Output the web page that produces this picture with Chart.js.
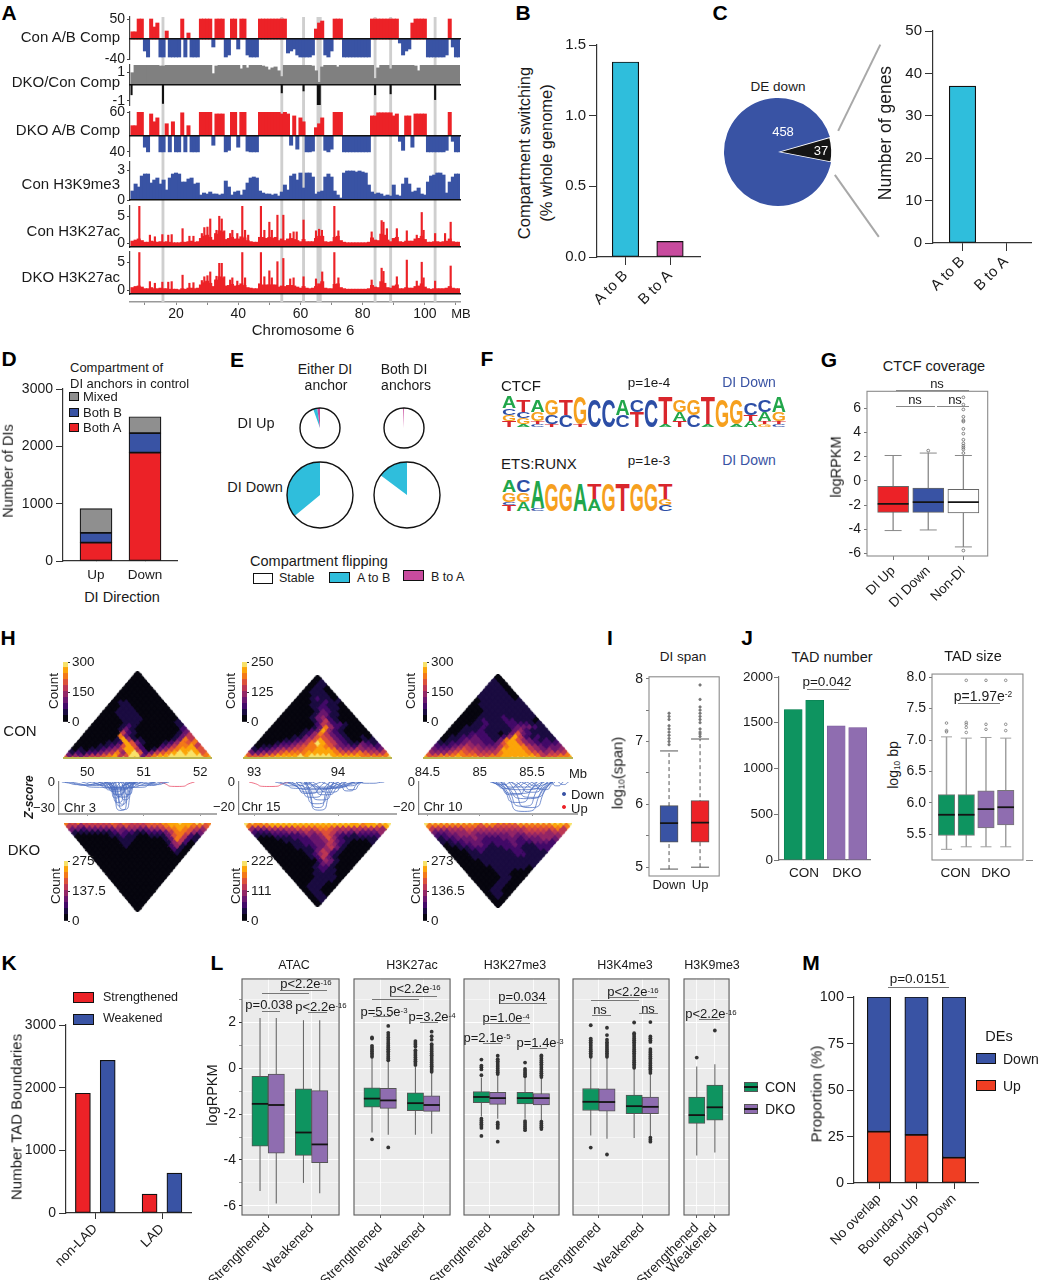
<!DOCTYPE html>
<html lang="en">
<head>
<meta charset="UTF-8">
<title>Figure panels A-M</title>
<script src="https://cdn.jsdelivr.net/npm/chart.js"></script>
<style>
  html, body { margin: 0; background: #fff; }
  #stage { position: relative; width: 1039px; height: 1280px; overflow: hidden; background: #fff;
           font-family: "Liberation Sans", Arial, sans-serif; color: #1a1a1a; }
  #stage canvas { position: absolute; }
  .t { position: absolute; white-space: nowrap; line-height: 1; }
  .t sup { font-size: 60%; vertical-align: baseline; position: relative; top: -0.45em; }
  .t sub { font-size: 60%; vertical-align: baseline; position: relative; top: 0.25em; }
  .r { position: absolute; }
</style>
</head>
<body>
<div id="stage"></div>
<script>
// ---- panel A, values per 1 Mb bin, chr6 from 6 to 111 Mb
var conComp = [18,18,50,50,-30,
  -45,50,30,40,-45,-45,20,-45,-45,-45,
  -45,50,-45,15,-45,-45,-45,50,50,50,
  50,-20,50,50,50,-45,-40,50,50,-25,
  50,50,-40,-45,-45,-45,50,50,50,50,
  50,50,50,50,50,-35,-30,-25,-40,-45,
  -45,-45,-45,-40,25,40,45,-40,-45,-30,
  50,50,50,-45,-45,-45,-45,-45,-45,-45,
  -45,-45,50,50,50,50,50,50,50,50,
  50,-10,-40,-30,-25,40,50,50,50,50,
  -45,-45,-45,-45,-45,-45,-40,50,-20,-45,
  -45];
var dkoComp = [25,25,60,60,-30,
  -42,55,35,45,-42,-42,30,-42,35,-42,
  -42,58,-42,25,-42,-42,-42,60,60,60,
  60,-25,55,55,55,-42,-38,60,60,-30,
  60,60,-40,-42,-42,-42,60,60,60,60,
  60,60,60,55,60,55,-25,50,-35,45,
  35,-42,-42,-40,20,30,45,-38,-42,-35,
  60,60,60,-42,-42,-42,-42,-42,-42,-42,
  -42,-42,50,50,58,58,58,58,58,50,
  55,-15,-38,50,50,-30,55,55,55,55,
  -42,-42,-42,-42,-42,-42,-38,60,-15,-42,
  -42];
var ratioUp = [.6,1,1,1,1,
  1,1,1,1,.95,.95,1,1,1,1,
  1,1,1,1,1,1,1,1,1,1,
  1,.55,.95,1,1,1,1,1,1,1,
  .8,1,.85,1,1,1,1,.95,.9,.75,
  .85,.9,.7,.4,1,1,1,1,1,1,
  1,1,1,.95,.7,.1,.9,1,1,1,
  1,.9,1,1,1,1,1,1,1,1,
  1,1,1,.3,.85,1,1,1,.8,1,
  1,1,1,1,1,1,.95,.7,1,1,
  1,1,1,1,1,1,1,1,1,1,
  1];
var ratioDownMb = [5.7,15.8,54,61,65.6,65.9,66.2,84,89,103.3];
var ratioDown = [-.55,-1,-.45,-.35,-1.1,-1.2,-1.1,-.55,-.5,-.8];
var conK9 = [.9,1.6,1.3,2.4,2.6,
  2.6,1.7,2,2.2,1.6,2,1,2.2,2.6,2.7,
  2.6,1.8,1.8,2.1,2.2,1.6,1.7,.5,.7,.6,
  .8,.6,.6,.5,.6,1.9,1.3,.5,.8,.9,
  .5,1,1.7,2.2,2.3,2.2,.9,.7,.6,.6,
  .5,.6,.4,.8,1.5,1,2.4,2.6,2,2.7,
  1.2,2.7,2.7,2.3,.6,.8,.9,2.3,2.6,2.3,
  .9,.5,.2,2.7,2.9,2.9,2.9,2.8,2.9,2.8,
  2.7,1.5,.8,.6,.7,.6,.4,.5,.4,1.5,
  .5,.4,1.6,2.2,1.6,.8,.9,1.2,.6,.5,
  1.8,2.4,2.5,2.7,2.7,2.5,.7,1.8,2.3,2.6,
  2.6];
var conK27 = [1.1,1.3,1.5,1.2,.9,
  .9,1.1,1,.9,1,.9,1,.9,.8,.8,
  .8,.9,.9,1,1.1,.9,1,1.6,2,2.2,
  1.8,1.3,2.4,3,2.8,1.4,1.6,1.8,1.5,1.5,
  1.9,1.7,1.2,1,.9,.9,1.8,1.8,1.6,1.8,
  1.6,1.8,1.2,1.5,1.2,1.5,1.6,1.4,1.2,1,
  1.4,1,1,1,1.6,2,2,1,.9,1,
  1.8,2,1.2,.9,.8,.8,.8,.8,.8,.8,
  .8,.9,1.7,1.3,1.2,2.4,2.2,1.3,1,1.6,
  1.8,1,.9,1.1,1.1,1.1,1.5,1.6,2,1.4,
  .9,.9,1,1,.9,1,1.1,1.5,1,.9,
  .9];
var dkoK27 = [1.2,1.4,1.5,1.3,1,
  1,1.2,1,1,1.1,1,1,.9,.9,.9,
  .8,1,.9,1.1,1.1,1,1.1,1.7,2.1,2.4,
  2,1.4,2.6,3.2,3,1.5,1.6,1.8,1.5,1.6,
  1.9,1.6,1.2,1.1,1,1,1.9,1.7,1.7,1.7,
  1.7,1.7,1.3,1.5,1.4,1.6,1.6,1.5,1.3,1.1,
  1.4,1.1,1,1.1,1.4,1.9,2.3,1.1,1,1,
  1.8,1.9,1.2,1,.9,.9,.9,.9,.9,.9,
  .9,1,1.6,1.3,1.2,2.3,2,1.2,1.1,1.5,
  1.7,1,1,1.2,1.1,1.1,1.4,1.5,1.9,1.3,
  1,.9,1,1,1,1,1.1,1.4,1.1,1,
  1];
var conPeakMb = [8.2,11.6,13.2,15.6,17.5,18.6,22.1,24.3,25.6,28.3,29.1,30.1,31,32.6,33,33.9,34.7,35.5,37.4,38.1,39.7,41.3,42.2,43.2,47.3,48.4,50,50.8,52.6,54.5,56.7,57.8,58.8,61,65,66,66.9,70.9,72.2,82.9,86.1,86.7,87.8,91,94.2,97.4,99,99.6,103.3,106.5,108.3];
var conPeak = [7.6,2.2,1.9,2.3,2.2,2.3,3.4,2,2,2.5,3.6,3.7,5.2,2.5,3.1,5.7,5.2,3,2.5,3.1,2.5,7.6,3.1,2.2,7.6,3.1,4.6,3.1,5.9,5.9,2.5,2.8,2.8,5,3,3.3,3.1,7.6,3,2.8,4.9,4.6,3.4,3.4,3,2.2,6.4,3.1,2.5,2.5,4.6];
var dkoPeakMb = [8.2,11.6,13.2,15.6,17.5,18.6,22.1,24.3,25.6,28.3,29.1,30.1,31,32.6,33,33.9,34.7,35.5,37.4,38.1,39.7,41.3,42.2,47.3,48.4,50,50.8,52.6,54.5,56.7,57.8,61,65,67,70.9,72.2,82.9,86.1,86.7,91,94.2,97.4,99,99.6,103.3,108.3];
var dkoPeak = [7.7,2.3,2,2.2,2.2,2.3,3.5,2,2.1,2.5,3.2,3.4,4.1,2.6,3.3,5.7,5.7,3.2,2.6,3,2.4,7.7,3,7.7,3.2,4.3,3,6,6.6,2.8,3,3.2,2.8,4.1,7.7,3,2.6,4.8,4.2,3.2,6.3,2.4,5.9,3,2.4,5.2];
var bandThinMb = [15.8,54,61,84,89,103.3];
var bandWideMb = [66];
var chrTicks = [10,20,30,40,50,60,70,80,90,100,110];

// ---- bar panels
var compSwitch = [1.38,0.11];
var switchNames = ['A to B','B to A'];
var pieDown = [37,458];
var geneCounts = [37,0];
var diUp = 'Up', diDown = 'Down';
var diBothA = [320,1890];
var diBothB = [170,340];
var diMixed = [425,286];
var tadNumber = [1644,1745,1465,1447];
var kNames = ['non-LAD','LAD'];
var kStrength = [1911,303];
var kWeak = [2437,637];
var mNames = ['No overlap','Boundary Up','Boundary Down'];
var mUp = [27.6,25.9,13.6];
var mDown = [72.4,74.1,86.4];

// ---- panel E, [stable, A to B, B to A]
var flipEitherUp = [94.5,3.3,2.2];
var flipBothUp = [99.3,0,0.7];
var flipEitherDown = [64,36,0];
var flipBothDown = [85.2,14.8,0];

// ---- panel F logos, letter + height in tenths, top of stack first
var logoCtcf = ['A4C2G2T2','T4C2G2A1','A4G3T1C1','G5C3T1','T5C4','G9T1','C9','C9','A5C4','C4T5','C9','T9A1','G4A3T2','G5C4','T9A1','G9','G8A1','C4T2A2','C4A3T1G1','A5G3T1C1'];
var logoEts = ['A4G3C1T2','C4G3A3','A9C1','G9','G9','A9','T5A4','G9','T9','G9','G9','T5G2C2'];

// ---- panel G, [low, q1, median, q3, high]
var gNames = ['DI Up','DI Down','Non-DI'];
var gBoxes = [[-4.1,-2.6,-1.9,-.45,2.1],[-4.05,-2.6,-1.75,-.6,2.3],[-5.45,-2.65,-1.75,-.7,2.1]];
var gOut = [[],[2.5],[-5.75,2.3,2.6,2.75,2.9,3.1,3.4,3.9,4.3,4.9,5,5.3,5.9,6.3,6.9]];

// ---- panel H, contact maps, rows from the diagonal outwards, digit = colour level
var mapCon3 = ['67667 77886 99847 89999 99999 8','34345 56785 69935 78899 99997','12122 34574 89623 56789 8986','01011 23458 85201 34678 886','00001 12368 62000 23577 85','00000 11286 31000 12476 7','00000 01841 10000 01375','00000 07310 00000 0135','00000 05210 00000 013','00000 13100 00000 02','00000 12100 00000 1','00000 11100 00001','00001 11100 0000','00011 11000 000','00111 10000 00','00111 00000 0','00110 00000','01100 0000','00000 000','00000 00','00000 0','00000','0000','000','00','0'];
var mapCon15 = ['88889 99999 99999 99999 98989 9','66677 88889 89999 88888 77777','33445 67777 88888 76667 6555','12234 55667 78887 54454 443','01123 34567 78764 33243 32','00012 23457 98653 21132 1','00001 12356 86532 10011','00000 11346 65321 0010','00000 01247 53210 000','00000 01238 42100 00','00000 00137 42100 0','00000 00254 22100','00000 01352 1000','00000 13421 000','00000 13311 00','00000 13210 0','00001 22110','00011 2110','00011 211','00121 10','00111 0','01110','0110','011','01','0'];
var mapCon10 = ['88899 99899 98888 99999 78888 8','66777 87776 67788 88887 56677','44456 76655 55788 88765 4555','33345 65544 45888 87543 434','22234 54433 35788 75432 33','11223 43322 36886 43222 2','01123 33221 37864 32121','01122 32211 24852 1211','00112 22110 13632 111','00111 21111 13421 11','00111 21111 23332 1','00011 21112 22211','00012 11122 1110','00011 11211 111','00011 11111 11','00011 11111 1','00111 11111','01111 1111','01111 111','11111 10','11111 0','11110','1110','110','10','0'];
var mapDko3 = ['76766 66676 76666 77888 98899 7','55455 55565 65556 66788 88776','33233 33343 44334 45678 7654','11111 11232 21122 23577 643','00000 01121 10011 13675 21','00000 00111 00000 13752 1','00000 00110 00000 14520','00000 00100 00000 2410','00000 00000 00000 210','00000 00000 00000 10','00000 00000 00000 0','00000 00000 00000','00000 00000 0000','00000 00000 000','00000 00000 00','00000 00000 0','00000 00000','00000 0000','00000 000','00000 00','00000 0','00000','0000','000','00','0'];
var mapDko15 = ['99899 99999 99999 99998 98899 9','77778 88888 88888 88888 78878','44455 55566 66776 55555 5554','22233 34445 45665 44343 334','11122 22234 34653 22122 22','00011 12223 34642 11111 1','00001 11223 34532 10001','00000 11223 35421 0000','00000 11123 45310 000','00000 01135 42100 00','00000 01245 21000 0','00000 01253 10000','00000 00243 1000','00000 01331 000','00000 12210 00','00000 12110 0','00001 11100','00001 1110','00011 110','00111 00','01110 0','01100','0110','011','01','0'];
var mapDko10 = ['99999 99998 99888 89999 99999 9','77777 77776 77666 67777 77887','55555 56655 55555 55666 6675','33344 45444 44444 45555 455','22334 44333 33343 34444 44','12233 34322 23332 33344 3','11223 33222 22322 23332','01122 33212 22321 1222','00112 22111 22211 122','00011 21111 12211 11','00011 11111 12211 1','00011 11111 11111','00001 11111 1111','00001 11111 111','00000 11111 10','00000 11100 0','00000 11000','00000 1100','00001 100','00011 00','00110 0','01100','0110','010','00','0'];
var heatLevels = ['#07060f','#1b0c41','#420a68','#6a176e','#932667','#bc3754','#dd513a','#f37819','#fca50a','#f8e26a'];
// arcs, [start Mb, end Mb, z-score at the middle]
var arcsChr3 = [[50.42,50.78,-32],[50.48,50.82,-31],[50.45,50.72,-27],[50.4,50.7,-23],[50.5,50.75,-25],[50.38,50.65,-18],[50.45,50.68,-16],[50.55,50.8,-20],[50.35,50.75,-14],[50.3,50.7,-11],[50.4,50.85,-17],[50.6,50.85,-14],[50.25,50.6,-9],[50.3,50.85,-9],[50.1,50.8,-7],[49.6,50.6,-4],[49.7,50.9,-6],[50,51.2,-6],[50.3,51,-7],[50.6,51.2,-6],[50.7,51.4,-4],[50.9,51.45,-3],[51,51.3,-2],[49.9,50.4,-3],[50.2,50.9,-8],[49.55,50.3,-3],[50.2,50.35,-2],[50.8,50.95,-2],[51.1,51.22,-1]];
var arcsChr3Up = [[51.28,51.9,-5]];
var arcsChr15 = [[93.6,93.95,-22],[93.62,93.9,-20],[93.55,93.95,-17],[93.6,94,-14],[93.5,93.9,-12],[93.65,94.05,-10],[93.45,93.85,-9],[93.4,94,-8],[93.35,94.1,-6],[93.7,94.1,-8],[93.3,93.8,-5],[93.4,94.2,-5],[93.8,94.2,-4],[94,94.25,-7],[94.05,94.28,-6],[93.5,94.3,-4],[94.2,94.55,-1],[93.9,94.3,-3],[93.25,93.7,-3],[93.6,94.2,-5]];
var arcsChr15Up = [[92.94,93.42,-3.5]];
var arcsChr10 = [[85.2,85.65,-23],[85.23,85.6,-19],[85.18,85.55,-16],[85.28,85.68,-20],[85.2,85.7,-13],[85.15,85.5,-10],[85.12,85.6,-9],[85.3,85.7,-12],[85.35,85.65,-8],[85.12,85.4,-5],[85.2,85.45,-4],[85.3,85.55,-4],[85.4,85.7,-5],[85.1,85.7,-6],[85.45,85.62,-3],[85.68,85.8,-3],[85.75,85.85,-2],[85.15,85.3,-2],[85.5,85.72,-6]];

// ---- panel I
var iNames = ['Down','Up'];
var iBoxes = [[4.97,5.4,5.7,5.98,6.85],[5,5.4,5.71,6.06,7.04]];
var iOut = [[6.95,7,7.05,7.1,7.15,7.2,7.25,7.35,7.4,7.45],[7.08,7.12,7.15,7.2,7.3,7.35,7.4,7.45,7.5,7.55,7.67,7.9]];
// ---- panel J size
var jBoxes = [[5.26,5.48,5.81,6.13,7.05],[5.3,5.48,5.81,6.13,7.03],[5.3,5.6,5.9,6.19,7.04],[5.3,5.65,5.93,6.2,7.03]];
var jOut = [[7.13,7.15,7.27],[7.12,7.2,7.25,7.28,7.95],[7.17,7.25,7.95],[7.15,7.25,7.95]];
// ---- panel L
var lNames = ['Strengthened','Weakened'];
var atacBoxes = [[-5.35,-3.4,-1.55,-.35,2.2],[-5.9,-3.7,-1.6,-.25,2.2],[-5,-3.8,-2.8,-.9,2.1],[-5.45,-4.12,-3.32,-.97,2.1]];
var k27acBoxes = [[-2.8,-1.7,-1.32,-.85,.45],[-2.9,-1.75,-1.4,-.87,.3],[-2.9,-1.85,-1.52,-1.07,.1],[-2.85,-1.88,-1.6,-1.2,-.2]];
var k27acOut = [[-3.1,.5,.58,.66,.74,.82,.9,.98,1.3,1.35],[-3.45,.35,.43,.51,.59,.67,.75,.83,.91,.99,1.07,1.15,1.25,1.35,1.45,1.55,1.85],[.15,.23,.31,.39,.47,.55,.63,.71,.79,.95,1.03,1.11,1.19],[-.15,-.07,.01,.09,.17,.25,.33,.41,.49,.57,.65,.73,.81,.89,.97,1.05,1.25,1.4,1.6]];
var k27me3Boxes = [[-2.1,-1.5,-1.25,-1.02,-.4],[-2.2,-1.57,-1.3,-1.05,-.3],[-2.2,-1.55,-1.3,-1.05,-.4],[-2.25,-1.6,-1.3,-1.1,-.42]];
var k27me3Out = [[-2.95,-2.6,-2.52,-2.44,-2.36,-2.28,-2.2,-.3,-.05,.05,.12,.38],[-3.2,-2.6,-2.52,-2.44,-2.36,-.25,-.17,-.09,-.01,.07,.15,.23,.31,.4,.55],[-2.7,-2.62,-2.54,-2.46,-2.38,-2.3,-.35,-.27,-.19,-.11,-.03,.25],[-2.65,-2.57,-2.49,-2.41,-2.33,-.38,-.3,-.22,-.14,-.06,.02,.1,.18,.26,.34,.42,.5,.56]];
var k4me3Boxes = [[-2.93,-1.84,-1.46,-.88,.47],[-3.07,-1.87,-1.47,-.9,.47],[-3.04,-1.98,-1.65,-1.17,-.03],[-3,-1.98,-1.68,-1.26,-.24]];
var k4me3Out = [[-3.46,.5,.58,.66,.74,.82,.9,.98,1.06,1.14,1.22,1.3,1.88],[-3.76,.5,.58,.66,.74,.82,.9,.98,1.06,1.14,1.25,1.45,1.77],[.02,.1,.18,.26,.34,.42,.5,.58,.66,.74,.82,.9,.98,1.06,1.14,1.22,1.3,1.38,1.46,1.53,2],[-3.2,-3.12,-3.03,-.2,-.12,-.04,.04,.12,.2,.28,.36,.44,.52,.6,.68,.76,.84,1.15,1.23,1.31,1.39,2.02]];
var k9me3Boxes = [[-3.8,-2.4,-2.04,-1.26,.08],[-3.67,-2.26,-1.7,-.73,.18]];
var k9me3Out = [[.47],[1.65]];

// ---- helpers
var RED = '#ec2227', BLUE = '#3953a4', GREY = '#8f8f8f', CYAN = '#2fbedc', MAG = '#c84b9e', GREEN = '#0e9460', PURPLE = '#8f6db0', INK = '#1a1a1a';
var stage = document.getElementById('stage');
Chart.defaults.font.family = '"Liberation Sans", Arial, sans-serif';
Chart.defaults.color = INK;
Chart.defaults.animation = false;
Chart.defaults.plugins.legend.display = false;
Chart.defaults.plugins.tooltip.enabled = false;

// panel background and frame, ring round the pies
Chart.register({
  id: 'frame',
  beforeDraw: function (chart, args, o) {
    if (o.fill) {
      var a = chart.chartArea;
      chart.ctx.save();
      chart.ctx.fillStyle = o.fill;
      chart.ctx.fillRect(a.left, a.top, a.right - a.left, a.bottom - a.top);
      chart.ctx.restore();
    }
  },
  afterDraw: function (chart, args, o) {
    var c = chart.ctx;
    if (o.stroke) {
      var a = chart.chartArea;
      c.save();
      c.strokeStyle = o.stroke;
      c.lineWidth = o.width || 1;
      c.strokeRect(a.left, a.top, a.right - a.left, a.bottom - a.top);
      c.restore();
    }
    if (o.ring) {
      var arc = chart.getDatasetMeta(0).data[0];
      c.save();
      c.strokeStyle = o.ring;
      c.lineWidth = 1.4;
      c.beginPath();
      c.arc(arc.x, arc.y, arc.outerRadius, 0, Math.PI * 2);
      c.stroke();
      c.restore();
    }
  }
});

function addChart(x0, y0, x1, y1, m, cfg) {
  m = Object.assign({ l: 0, t: 0, r: 0, b: 0 }, m);
  var size = { left: m.yw !== undefined ? m.yw : m.l, right: m.r, top: m.t, bottom: m.b };
  var used = {};
  var scales = cfg.options.scales || {};
  Object.keys(scales).forEach(function (id) {
    var s = scales[id];
    if (s.display === false || (s.position && typeof s.position === 'object')) return;
    var pos = s.position || (id[0] === 'x' ? 'bottom' : 'left');
    s.position = pos;
    used[pos] = true;
    s.afterFit = function (ax) {
      if (ax.isHorizontal()) ax.height = size[pos]; else ax.width = size[pos];
      ax.paddingLeft = ax.paddingRight = ax.paddingTop = ax.paddingBottom = 0;
    };
  });
  cfg.options.responsive = false;
  cfg.options.maintainAspectRatio = false;
  cfg.options.devicePixelRatio = 1;
  cfg.options.events = [];
  cfg.options.layout = { padding: {
    left: m.l - (used.left ? size.left : 0), right: used.right ? 0 : m.r,
    top: used.top ? 0 : m.t, bottom: used.bottom ? 0 : m.b } };
  var c = document.createElement('canvas');
  c.width = x1 - x0 + m.l + m.r;
  c.height = y1 - y0 + m.t + m.b;
  c.style.left = (x0 - m.l) + 'px';
  c.style.top = (y0 - m.t) + 'px';
  c.style.width = c.width + 'px';
  c.style.height = c.height + 'px';
  stage.appendChild(c);
  return new Chart(c.getContext('2d'), cfg);
}

function T(html, x, y, o) {
  o = o || {};
  var d = document.createElement('div');
  d.className = 't';
  d.innerHTML = html;
  d.style.left = x + 'px';
  d.style.top = y + 'px';
  d.style.fontSize = (o.s || 14) + 'px';
  if (o.c) d.style.color = o.c;
  if (o.b) d.style.fontWeight = 'bold';
  if (o.i) d.style.fontStyle = 'italic';
  var tx = o.a === 'l' ? '0' : o.a === 'r' ? '-100%' : '-50%';
  d.style.transform = 'translate(' + tx + ',-50%)' + (o.r ? ' rotate(' + o.r + 'deg)' : '');
  stage.appendChild(d);
}
function L(x1, y1, x2, y2, col, w) {
  var d = document.createElement('div');
  d.className = 'r';
  var len = Math.hypot(x2 - x1, y2 - y1);
  d.style.left = x1 + 'px';
  d.style.top = (y1 - (w || 1) / 2) + 'px';
  d.style.width = len + 'px';
  d.style.height = (w || 1) + 'px';
  d.style.background = col || '#777';
  d.style.transformOrigin = '0 50%';
  d.style.transform = 'rotate(' + Math.atan2(y2 - y1, x2 - x1) + 'rad)';
  stage.appendChild(d);
}
function swatch(x, y, w, h, fill, border) {
  var d = document.createElement('div');
  d.className = 'r';
  d.style.cssText += 'box-sizing:border-box;left:' + x + 'px;top:' + y + 'px;width:' + w + 'px;height:' + h + 'px;background:' + fill + ';border:1px solid ' + (border || '#111');
  stage.appendChild(d);
  return d;
}

function yAxis(min, max, vals, o) {
  o = o || {};
  return {
    type: 'linear', min: min, max: max, position: o.pos,
    afterBuildTicks: function (ax) { ax.ticks = vals.map(function (v) { return { value: v }; }); },
    ticks: { autoSkip: false, font: { size: o.size || 14 }, color: INK, padding: o.pad === undefined ? 3 : o.pad, callback: o.fmt || function (v) { return String(v); } },
    grid: { drawOnChartArea: false, tickLength: o.tick === undefined ? 6 : o.tick, color: o.col || '#333', lineWidth: 1 },
    border: { display: o.border !== false, color: o.col || '#333', width: o.bw || 1.2 }
  };
}
// x axis where value 1 sits at pixel c1 and value 2 at pixel c2
function catX(x0, x1, c1, c2, vals, names, o) {
  o = o || {};
  var sp = c2 - c1;
  return {
    type: 'linear', offset: false, min: 1 - (c1 - x0) / sp, max: 1 + (x1 - c1) / sp,
    afterBuildTicks: function (ax) { ax.ticks = vals.map(function (v) { return { value: v }; }); },
    ticks: { autoSkip: false, font: { size: o.size || 14 }, color: INK, padding: o.pad === undefined ? 2 : o.pad,
             minRotation: o.rot || 0, maxRotation: o.rot || 0,
             callback: function (v, i) { return names[i]; } },
    grid: { offset: false, drawOnChartArea: false, tickLength: o.tick === undefined ? 7 : o.tick, color: o.col || '#333', lineWidth: 1 },
    border: { display: o.border !== false, color: o.col || '#333', width: o.bw || 1.2 }
  };
}
function pts(xs, ys) { return ys.map(function (y, i) { return { x: xs[i], y: y }; }); }
function barSet(xs, ys, fill, th, extra) {
  return Object.assign({ type: 'bar', data: pts(xs, ys), backgroundColor: fill, borderColor: '#111', borderWidth: 1.2, borderSkipped: false, barThickness: th, grouped: false }, extra || {});
}
function boxSets(xs, boxes, outs, fills, o) {
  var sets = [];
  xs.forEach(function (x, i) {
    sets.push({ type: 'scatter', showLine: true, data: [{ x: x, y: boxes[i][0] }, { x: x, y: boxes[i][4] }], borderColor: o.wc, borderWidth: o.ww || 1, borderDash: o.dash || [], pointRadius: 0, order: 5 });
  });
  if (o.cap) {
    var caps = [];
    xs.forEach(function (x, i) { caps.push({ x: x, y: boxes[i][0] }, { x: x, y: boxes[i][4] }); });
    sets.push({ type: 'scatter', data: caps, pointStyle: 'line', pointRadius: o.cap / 2, pointBorderColor: o.wc, pointBorderWidth: 1, order: 4 });
  }
  sets.push({ type: 'bar', data: xs.map(function (x, i) { return { x: x, y: [boxes[i][1], boxes[i][3]] }; }), backgroundColor: fills, borderColor: o.bc || '#555', borderWidth: 1, borderSkipped: false, barThickness: o.bw, grouped: false, order: 3 });
  sets.push({ type: 'scatter', data: xs.map(function (x, i) { return { x: x, y: boxes[i][2] }; }), pointStyle: 'line', pointRadius: o.bw / 2, pointBorderColor: '#141414', pointBorderWidth: o.mw || 1.8, order: 2 });
  var od = [];
  xs.forEach(function (x, i) { (outs[i] || []).forEach(function (y) { od.push({ x: x, y: y }); }); });
  sets.push({ type: 'scatter', data: od, pointRadius: o.or || 1.4, pointBackgroundColor: o.of || 'rgba(255,255,255,0)', pointBorderColor: o.oc || '#666', pointBorderWidth: o.ob === undefined ? .8 : o.ob, order: 1 });
  return sets;
}

// ---- panel letters
[['A',9,12],['B',523,12],['C',720,12],['D',9,358],['E',237,359],['F',487,358],['G',829,359],['H',8,637],['I',610,637],['J',747,637],['K',9,962],['L',217,962],['M',811,962]].forEach(function (p) {
  T(p[0], p[1], p[2], { s: 21, b: true, c: '#000' });
});

// ---- A
var MBX0 = 130, MBX1 = 460, MBMIN = 5.2, MBMAX = 111.3;
var mbBins = conComp.map(function (v, i) { return 6 + i; });
addChart(MBX0, 17, MBX1, 302, { l: 10, r: 10, b: 24 }, {
  type: 'bar',
  data: { datasets: [
    barSet(bandThinMb, bandThinMb.map(function () { return 1; }), '#cfcfcf', 2.2, { borderWidth: 0 }),
    barSet(bandWideMb, bandWideMb.map(function () { return 1; }), '#cfcfcf', 4.5, { borderWidth: 0 })
  ] },
  options: { scales: {
    x: { type: 'linear', offset: false, min: MBMIN, max: MBMAX,
      afterBuildTicks: function (ax) { ax.ticks = chrTicks.map(function (v) { return { value: v }; }); },
      ticks: { autoSkip: false, maxRotation: 0, font: { size: 14 }, color: INK, padding: 1, callback: function (v) { return v % 20 === 0 ? String(v) : ''; } },
      grid: { offset: false, drawOnChartArea: false, tickLength: 3, color: '#888' }, border: { color: '#999', width: 1.5 } },
    y: { display: false, min: 0, max: 1 }
  } }
});
function track(y0, y1, min, max, vals, labels, sets) {
  addChart(MBX0, y0, MBX1, y1, { l: 45, t: 8, b: 8, r: 1 }, {
    type: 'bar',
    data: { datasets: sets },
    options: { scales: {
      x: { type: 'linear', offset: false, min: MBMIN, max: MBMAX, position: { y: 0 }, ticks: { display: false }, grid: { offset: false, display: false, drawTicks: false }, border: { color: '#111', width: 1.4, z: 1 } },
      y: yAxis(min, max, vals, { size: 14, tick: 3, pad: 2, col: '#444', fmt: function (v, i) { return labels[i]; } })
    } }
  });
}
function binBars(bins, vals, colourUp, colourDown) {
  return barSet(bins, vals, vals.map(function (v) { return v >= 0 ? colourUp : colourDown; }), 3.35, { borderWidth: 0 });
}
track(17, 59, -50, 55, [50, -50], ['50', '-40'], [binBars(mbBins, conComp, RED, BLUE)]);
track(65, 105, -1.08, 1, [.62, -.87], ['1', '-1'], [
  binBars(mbBins, ratioUp, '#808080', '#808080'),
  barSet(ratioDownMb, ratioDown, '#111', 1.4, { borderWidth: 0 })
]);
track(112, 156, -52.5, 60, [60, -42], ['60', '40'], [binBars(mbBins, dkoComp, RED, BLUE)]);
track(162, 200, 0, 3.8, [3, 0], ['3', '0'], [binBars(mbBins, conK9, BLUE, BLUE)]);
track(206, 247, 0, 7.6, [5.74, .74], ['5', '0'], [binBars(mbBins, conK27, RED, RED), barSet(conPeakMb, conPeak, RED, 1.5, { borderWidth: 0 })]);
track(252, 294, 0, 7.8, [5.9, .74], ['5', '0'], [binBars(mbBins, dkoK27, RED, RED), barSet(dkoPeakMb, dkoPeak, RED, 1.5, { borderWidth: 0 })]);
[['Con A/B Comp', 36], ['DKO/Con Comp', 81], ['DKO A/B Comp', 129], ['Con H3K9me3', 183], ['Con H3K27ac', 230], ['DKO H3K27ac', 276]].forEach(function (p) {
  T(p[0], 120, p[1], { s: 15, a: 'r' });
});
T('MB', 461, 313, { s: 13 });
T('Chromosome 6', 303, 329, { s: 15 });

// ---- B
addChart(597, 45, 700, 257, { l: 40, t: 10, b: 50, r: 8 }, {
  type: 'bar',
  data: { datasets: [barSet([1, 2], compSwitch, [CYAN, MAG], 26.5)] },
  options: { scales: {
    x: catX(597, 700, 625.5, 670, [1, 2], switchNames, { rot: 45, size: 15, tick: 8 }),
    y: yAxis(0, 1.5, [0, .5, 1, 1.5], { size: 15, tick: 8, fmt: function (v) { return v.toFixed(1); } })
  } }
});
T('Compartment switching', 524, 153, { s: 16.5, r: -90 });
T('(% whole genome)', 546, 153, { s: 16.5, r: -90 });

// ---- C
addChart(721, 95, 835, 209, {}, {
  type: 'doughnut',
  data: { labels: ['37', '458'], datasets: [{ data: pieDown, backgroundColor: ['#151515', BLUE], borderColor: '#fff', borderWidth: [1.6, 0] }] },
  options: { cutout: 0, radius: 54, rotation: 74 }
});
T('DE down', 778, 87, { s: 13.5 });
T('458', 783, 131, { s: 13, c: '#fff' });
T('37', 821, 150, { s: 13, c: '#fff' });
L(838, 131, 880, 45, '#a8a8a8', 1.6);
L(835, 175, 879, 237, '#a8a8a8', 1.6);
addChart(933, 31, 1031, 243, { l: 36, t: 8, b: 50, r: 4 }, {
  type: 'bar',
  data: { datasets: [barSet([1, 2], geneCounts, [CYAN, MAG], 26.5)] },
  options: { scales: {
    x: catX(933, 1031, 962.5, 1006, [1, 2], switchNames, { rot: 45, size: 15, tick: 8 }),
    y: yAxis(0, 50, [0, 10, 20, 30, 40, 50], { size: 15, tick: 8 })
  } }
});
T('Number of genes', 886, 133, { s: 17.5, r: -90 });

// ---- D
addChart(63, 389, 177, 561, { l: 60, yw: 45, t: 8, b: 24, r: 4 }, {
  type: 'bar',
  data: { datasets: [
    barSet([1, 2], diBothA, RED, 32, { stack: 's' }),
    barSet([1, 2], diBothB, BLUE, 32, { stack: 's' }),
    barSet([1, 2], diMixed, GREY, 32, { stack: 's' })
  ] },
  options: { scales: {
    x: catX(63, 177, 96, 145, [1, 2], [diUp, diDown], { tick: 0, size: 13.5, pad: 6 }),
    y: Object.assign(yAxis(0, 3000, [0, 1000, 2000, 3000], { size: 14, tick: 7 }), { stacked: true })
  } }
});
T('Number of DIs', 8, 471, { s: 14.5, r: -90 });
T('DI Direction', 122, 597, { s: 14.5 });
T('Compartment of', 70, 367, { s: 13, a: 'l' });
T('DI anchors in control', 70, 383, { s: 13, a: 'l' });
swatch(69, 392, 10, 9, GREY); swatch(69, 408, 10, 9, BLUE); swatch(69, 423, 10, 9, RED);
T('Mixed', 83, 396, { s: 13, a: 'l' });
T('Both B', 83, 412, { s: 13, a: 'l' });
T('Both A', 83, 427, { s: 13, a: 'l' });

// ---- E
function flipPie(cx, cy, r, values) {
  addChart(cx - r - 3, cy - r - 3, cx + r + 3, cy + r + 3, {}, {
    type: 'doughnut',
    data: { labels: ['Stable', 'A to B', 'B to A'], datasets: [{ data: values, backgroundColor: ['#fff', CYAN, MAG], borderWidth: 0 }] },
    options: { cutout: 0, radius: r, plugins: { frame: { ring: '#111' } } }
  });
}
flipPie(320, 428, 20, flipEitherUp);
flipPie(404, 428, 20, flipBothUp);
flipPie(320, 495, 33, flipEitherDown);
flipPie(407, 495, 33, flipBothDown);
T('Either DI', 325, 369, { s: 14 }); T('anchor', 326, 385, { s: 14 });
T('Both DI', 404, 369, { s: 14 }); T('anchors', 406, 385, { s: 14 });
T('DI Up', 256, 423, { s: 14.5 }); T('DI Down', 255, 487, { s: 14.5 });
T('Compartment flipping', 319, 561, { s: 14.5 });
swatch(253, 573, 20, 11, '#fff'); swatch(329, 572, 21, 11, CYAN); swatch(403, 570, 21, 11, MAG);
T('Stable', 279, 578, { s: 12.5, a: 'l' });
T('A to B', 357, 578, { s: 12.5, a: 'l' });
T('B to A', 431, 577, { s: 12.5, a: 'l' });

// ---- F
var LOGO_COL = { A: '#21a64a', C: '#2c4ea6', G: '#f6a01e', T: '#d9262c' };
var LOGO_W = { A: 14.44, C: 14.44, G: 15.56, T: 12.22 };
function logo(x0, yBase, colW, height, cols) {
  cols.forEach(function (col, i) {
    var parts = col.match(/[ACGT]\d/g);
    var y = yBase - parts.reduce(function (s, p) { return s + (+p[1]); }, 0) / 10 * height;
    parts.forEach(function (p) {
      var h = (+p[1]) / 10 * height;
      var d = document.createElement('div');
      d.className = 't';
      d.textContent = p[0];
      d.style.cssText += 'left:0;top:0;font-size:20px;line-height:20px;font-weight:bold;color:' + LOGO_COL[p[0]] + ';transform-origin:0 0;';
      y += h;
      d.style.transform = 'translate(' + (x0 + i * colW) + 'px,' + y + 'px) scale(' + (colW / LOGO_W[p[0]]) + ',' + (h / 14.4) + ') translateY(-16.9px)';
      stage.appendChild(d);
    });
  });
}
logo(502, 427, 14.2, 31, logoCtcf);
logo(502, 511, 14.2, 31, logoEts);
T('CTCF', 501, 385, { s: 15, a: 'l' });
T('p=1e-4', 649, 383, { s: 13.5 });
T('DI Down', 749, 382, { s: 14, c: BLUE });
T('ETS:RUNX', 501, 463, { s: 15, a: 'l' });
T('p=1e-3', 649, 461, { s: 13.5 });
T('DI Down', 749, 460, { s: 14, c: BLUE });

// ---- G
addChart(867, 378, 1001, 556, { l: 24, t: 4, b: 62, r: 4 }, {
  type: 'bar',
  data: { datasets: boxSets([1, 2, 3], gBoxes, gOut, [RED, BLUE, '#fff'], { wc: '#888', bw: 31, cap: 17, ww: 1.3, bc: '#666' }) },
  options: { plugins: { frame: { stroke: '#8a8a8a', width: 1.1 } }, scales: {
    x: catX(867, 1001, 896, 935, [1, 2, 3], gNames, { rot: 45, size: 13.5, tick: 4, border: false, col: '#777', pad: 3 }),
    y: yAxis(-6.2, 7.4, [-6, -4, -2, 0, 2, 4, 6], { size: 14, tick: 3, border: false, col: '#777' })
  } }
});
T('CTCF coverage', 934, 366, { s: 14.5 });
T('logRPKM', 836, 467, { s: 14.5, r: -90 });
T('ns', 937, 383, { s: 13 }); T('ns', 915, 399, { s: 13 }); T('ns', 955, 399, { s: 13 });
L(896, 390, 969, 390, '#888'); L(896, 406, 935, 406, '#888'); L(937, 406, 969, 406, '#888');

// ---- H
var dotCache = {};
function cellStyle(level, w, h) {
  var key = level + '_' + w + '_' + h;
  if (dotCache[key]) return dotCache[key];
  var c = document.createElement('canvas');
  c.width = Math.ceil(w); c.height = Math.ceil(h);
  var g = c.getContext('2d');
  g.fillStyle = heatLevels[level];
  g.beginPath();
  g.moveTo(c.width / 2, 0); g.lineTo(c.width, c.height / 2); g.lineTo(c.width / 2, c.height); g.lineTo(0, c.height / 2);
  g.closePath();
  g.fill();
  dotCache[key] = c;
  return c;
}
function heatMap(x0, y0, x1, y1, rows, flip, baseCol) {
  var n = rows.length, data = [], styles = [];
  var dx = (x1 - x0) / n, dy = (y1 - y0) / n;
  rows.forEach(function (row, k) {
    row.replace(/ /g, '').split('').forEach(function (ch, i) {
      data.push({ x: k / 2 + i + .5, y: k });
      styles.push(cellStyle(+ch, dx + 1, dy * 2 + 1));
    });
  });
  addChart(x0, y0, x1, y1, {}, {
    type: 'scatter',
    data: { datasets: [{ data: data, pointStyle: styles, pointRadius: 3 }] },
    options: { scales: {
      x: { type: 'linear', min: 0, max: n, ticks: { display: false }, grid: { display: false, drawTicks: false },
           border: { display: !!baseCol, color: baseCol, width: 2, z: 1 } },
      y: { display: false, min: 0, max: n, reverse: !!flip }
    } }
  });
}
function colourBar(x0, y0, x1, y1, max, lab) {
  var step = max / heatLevels.length;
  addChart(x0, y0, x1, y1, { r: 42, t: 6, b: 6 }, {
    type: 'bar',
    data: { datasets: heatLevels.map(function (col, i) {
      return { data: [{ x: 1, y: [i * step, (i + 1) * step + step * .1] }], backgroundColor: col, barThickness: x1 - x0, grouped: false };
    }) },
    options: { scales: {
      x: { display: false, type: 'linear', offset: false, min: 0, max: 2 },
      y: yAxis(0, max, [0, max / 2, max], { pos: 'right', size: 13.5, tick: 2, pad: 2, border: false, fmt: lab })
    } }
  });
}
function arcSets(list, col) {
  return list.map(function (a) {
    return { type: 'scatter', showLine: true, tension: .8, data: [{ x: a[0], y: 0 }, { x: (a[0] + a[1]) / 2, y: a[2] }, { x: a[1], y: 0 }], borderColor: col, borderWidth: .75, pointRadius: 0 };
  });
}
function arcPanel(x0, x1, min, max, labelTicks, grayTicks, zMin, zTick, zLab, sets) {
  addChart(x0, 782, x1, 814, { l: 34, t: 18, b: 4, r: 8 }, {
    type: 'scatter',
    data: { datasets: sets },
    options: { scales: {
      x: { type: 'linear', min: min, max: max, position: 'top',
        afterBuildTicks: function (ax) { ax.ticks = labelTicks.map(function (v) { return { value: v }; }); },
        ticks: { autoSkip: false, maxRotation: 0, font: { size: 13 }, color: INK, padding: 2, callback: function (v) { return String(v); } },
        grid: { display: false, drawTicks: false }, border: { display: false } },
      x2: { type: 'linear', min: min, max: max, position: 'bottom',
        afterBuildTicks: function (ax) { ax.ticks = grayTicks.map(function (v) { return { value: v }; }); },
        ticks: { display: false }, grid: { drawOnChartArea: false, tickLength: 2, color: '#999' }, border: { color: '#aaa', width: 2 } },
      y: yAxis(zMin, 0, [zTick, 0], { size: 13, tick: 0, pad: 4, col: '#888', fmt: function (v) { return v === 0 ? '0' : zLab; } })
    } }
  });
}
var HY = 763, HD = 818;
heatMap(59, 666, 216, HY, mapCon3, false, '#b9b450');
heatMap(239, 670, 396, HY, mapCon15, false, '#b9b450');
heatMap(419, 669, 577, HY, mapCon10, false, '#b9b450');
heatMap(59, HD, 216, 917, mapDko3, true);
heatMap(239, HD, 396, 912, mapDko15, true);
heatMap(419, HD, 577, 913, mapDko10, true);
colourBar(63, 662, 68, 722, 300);
colourBar(242, 662, 247, 722, 250);
colourBar(423, 662, 427, 722, 300);
colourBar(64, 861, 68, 921, 275);
colourBar(242, 861, 247, 921, 222);
colourBar(423, 861, 427, 921, 273);
[[54, 691], [231, 691], [411, 691], [56, 886], [236, 886], [416, 886]].forEach(function (p) { T('Count', p[0], p[1], { s: 13.5, r: -90 }); });
T('CON', 20, 730, { s: 15 });
T('DKO', 24, 849, { s: 15 });
arcPanel(59, 216, 49.5, 52.28, [50, 51, 52], [50, 51, 52], -36, -30, '\u221230', arcSets(arcsChr3, '#4a6cc0').concat(arcSets(arcsChr3Up, '#e8405e')));
arcPanel(239, 396, 92.82, 94.69, [93, 94], [93, 94], -25, -20, '\u221220', arcSets(arcsChr15, '#4a6cc0').concat(arcSets(arcsChr15Up, '#e8405e')));
arcPanel(419, 577, 84.42, 85.93, [84.5, 85, 85.5], [84.5, 85, 85.5], -25, -20, '\u221220', arcSets(arcsChr10, '#4a6cc0'));
T('Mb', 578, 773, { s: 13 });
T('Chr 3', 80, 807, { s: 13 });
T('Chr 15', 261, 806, { s: 13 });
T('Chr 10', 443, 806, { s: 13 });
T('Z-score', 29, 797, { s: 12, b: true, i: true, r: -90 });
var dn = swatch(562, 792, 3.5, 3.5, '#3953a4', '#3953a4'); dn.style.borderRadius = '50%';
var up = swatch(562, 805, 3.5, 3.5, RED, RED); up.style.borderRadius = '50%';
T('Down', 571, 794, { s: 13, a: 'l' });
T('Up', 571, 808, { s: 13, a: 'l' });

// ---- I
addChart(649, 670, 726, 876, { l: 24, t: 4, b: 18, r: 4 }, {
  type: 'bar',
  data: { datasets: boxSets([1, 2], iBoxes, iOut, [BLUE, RED], { wc: '#555', bw: 18, cap: 18, dash: [4, 3], or: 1.2, oc: '#777', of: '#777' }) },
  options: { plugins: { frame: { stroke: '#8a8a8a', width: 1.1 } }, scales: {
    x: catX(649, 726, 671, 705, [1, 2], iNames, { tick: 0, size: 13, border: false, pad: 2 }),
    y: yAxis(4.86, 8.03, [5, 5.5, 6, 6.5, 7, 7.5, 8], { size: 14, tick: 3, border: false, col: '#777', fmt: function (v) { return v % 1 === 0 ? String(v) : ''; } })
  } }
});
T('DI span', 683, 657, { s: 13.5 });
T('log<sub>10</sub>(span)', 617, 773, { s: 15, r: -90 });

// ---- J number
addChart(779, 677, 870, 860, { l: 42, t: 8, b: 22, r: 2 }, {
  type: 'bar',
  data: { datasets: [barSet([1, 2, 3, 4], tadNumber, [GREEN, GREEN, PURPLE, PURPLE], 18, { borderWidth: 0.6, borderColor: ['#0a7a4f', '#0a7a4f', '#7a5c99', '#7a5c99'] })] },
  options: { scales: {
    x: catX(779, 870, 793.2, 814.7, [1.5, 3.5], ['CON', 'DKO'], { tick: 0, size: 13.5, pad: 5, col: '#777' }),
    y: yAxis(0, 2000, [0, 500, 1000, 1500, 2000], { size: 13.5, tick: 5, col: '#777', pad: 1 })
  } }
});
T('TAD number', 832, 657, { s: 14.5 });
T('p=0.042', 827, 682, { s: 13.5 });
L(807, 689, 849, 689, '#777');
// ---- J size
addChart(932, 668, 1026, 860, { l: 30, t: 4, b: 22, r: 7 }, {
  type: 'bar',
  data: { datasets: boxSets([1, 2, 3, 4], jBoxes, jOut, [GREEN, GREEN, PURPLE, PURPLE], { wc: '#a0a0a0', bw: 16.5, cap: 11, ww: 1.5, or: 1.3, oc: '#777', bc: '#777' }) },
  options: { plugins: { frame: { stroke: '#8a8a8a', width: 1.1 } }, scales: {
    x: catX(932, 1026, 947, 967.4, [1.45, 3.5], ['CON', 'DKO'], { tick: 0, size: 13.5, pad: 5, border: false }),
    y: yAxis(5.09, 8.05, [5.5, 6, 6.5, 7, 7.5, 8], { size: 14, tick: 3, border: false, col: '#777', fmt: function (v) { return v.toFixed(1); } })
  } }
});
L(1026, 860, 1033, 860, '#8a8a8a');
T('TAD size', 973, 656, { s: 14.5 });
T('p=1.97e<sup>-2</sup>', 983, 696, { s: 14 });
L(958, 703, 1000, 703, '#777');
T('log<sub>10</sub> bp', 893, 765, { s: 14, r: -90 });

// ---- K
var kOff = .186;
addChart(66, 1025, 191, 1213, { l: 66, yw: 42, t: 8, b: 60, r: 4 }, {
  type: 'bar',
  data: { datasets: [barSet([1 - kOff, 2 - kOff], kStrength, RED, 15), barSet([1 + kOff, 2 + kOff], kWeak, BLUE, 15)] },
  options: { scales: {
    x: catX(66, 191, 95.3, 162, [1, 2], kNames, { rot: 45, size: 13.5, tick: 6 }),
    y: yAxis(0, 3000, [0, 1000, 2000, 3000], { size: 14, tick: 7 })
  } }
});
T('Number TAD Boundaries', 16, 1117, { s: 15, r: -90 });
swatch(73, 992, 21, 11, RED); swatch(73, 1014, 21, 11, BLUE);
T('Strengthened', 103, 997, { s: 12.5, a: 'l' });
T('Weakened', 103, 1018, { s: 12.5, a: 'l' });

// ---- L
var LY0 = 973, LY1 = 1215, LMIN = -6.4, LMAX = 3.9;
var lTicks = [-6, -5, -4, -3, -2, -1, 0, 1, 2, 3];
function lPanel(x0, x1, c1, c2, xs, tickVals, names, boxes, outs, fills, showY) {
  var y = yAxis(LMIN, LMAX, lTicks, { size: 14, tick: showY ? 3 : 0, border: false, fmt: function (v) { return showY && v % 2 === 0 ? String(v) : ''; } });
  y.grid = { drawOnChartArea: true, drawTicks: !!showY, tickLength: showY ? 3 : 0, color: '#fff', tickColor: '#333',
             lineWidth: function (c) { return c.tick && Math.abs(c.tick.value) % 2 === 0 ? 1 : .5; } };
  if (!showY) y.ticks.display = false;
  var x = catX(x0, x1, c1, c2, tickVals, names, { rot: 45, size: 13.5, tick: 3, border: false, pad: 2 });
  x.grid = { offset: false, drawOnChartArea: true, tickLength: 3, color: '#fff', tickColor: '#333', lineWidth: .8 };
  addChart(x0, LY0, x1, LY1, { l: 60, yw: showY ? 28 : 0, t: 4, b: 65, r: 2 }, {
    type: 'bar',
    data: { datasets: boxSets(xs, boxes, outs, fills, { wc: '#6a6a6a', bw: 16.3, ww: 1.1, bc: '#555', mw: 1.8, or: 1.9, oc: '#333', of: '#333', ob: 0 }) },
    options: { plugins: { frame: { fill: '#ebebeb', stroke: '#5a5a5a', width: 1.1 } }, scales: { x: x, y: y } }
  });
}
var LD = .187, lFour = [1 - LD, 1 + LD, 2 - LD, 2 + LD], lFills = [GREEN, PURPLE, GREEN, PURPLE];
lPanel(242, 347, 270.3, 317.3, lFour, [1, 2], lNames, atacBoxes, [[], [], [], []], lFills, true);
lPanel(354, 458, 382.3, 429.3, lFour, [1, 2], lNames, k27acBoxes, k27acOut, lFills);
lPanel(464, 567, 491.7, 539, lFour, [1, 2], lNames, k27me3Boxes, k27me3Out, lFills);
lPanel(573, 677, 601, 648, lFour, [1, 2], lNames, k4me3Boxes, k4me3Out, lFills);
lPanel(684, 737, 699, 720.3, [1, 2], [1, 2], lNames, k9me3Boxes, k9me3Out, [GREEN, GREEN]);
[['ATAC', 294], ['H3K27ac', 412], ['H3K27me3', 515], ['H3K4me3', 625], ['H3K9me3', 712]].forEach(function (p) { T(p[0], p[1], 965, { s: 12.5 }); });
T('logRPKM', 212, 1095, { s: 14.5, r: -90 });
var E16 = 'p&lt;2.2e<sup>-16</sup>';
[[E16, 306, 983], ['p=0.038', 269, 1004], [E16, 321, 1006],
 [E16, 415, 988], ['p=5.5e<sup>-3</sup>', 384, 1011], ['p=3.2e<sup>-4</sup>', 432, 1016],
 ['p=0.034', 522, 996], ['p=1.0e<sup>-4</sup>', 506, 1017], ['p=2.1e<sup>-5</sup>', 487, 1037], ['p=1.4e<sup>-3</sup>', 540, 1042],
 [E16, 633, 991], ['ns', 600, 1009], ['ns', 648, 1008], [E16, 711, 1013]].forEach(function (p) { T(p[0], p[1], p[2], { s: 13 }); });
[[280, 327, 990], [262, 309, 993], [262, 280, 1011], [308, 327, 1012],
 [390, 437, 996], [372, 419, 999], [373, 391, 1016], [420, 438, 1022],
 [500, 547, 1003], [483, 530, 1023], [483, 501, 1043], [530, 547, 1048],
 [609, 657, 997], [591, 639, 1000], [592, 611, 1015], [639, 658, 1013], [699, 720, 1019]].forEach(function (p) { L(p[0], p[2], p[1], p[2], '#777'); });
swatch(744, 1082, 14, 10, GREEN, '#555'); L(744, 1087, 758, 1087, '#141414', 1.6);
swatch(744, 1104, 14, 10, PURPLE, '#555'); L(744, 1109, 758, 1109, '#141414', 1.6);
T('CON', 765, 1087, { s: 14, a: 'l' });
T('DKO', 765, 1109, { s: 14, a: 'l' });

// ---- M
addChart(854, 997, 978, 1183, { l: 60, yw: 36, t: 8, b: 95, r: 4 }, {
  type: 'bar',
  data: { datasets: [
    barSet([1, 2, 3], mUp, '#ef3e23', 23.4, { stack: 's' }),
    barSet([1, 2, 3], mDown, BLUE, 23.4, { stack: 's' })
  ] },
  options: { scales: {
    x: catX(854, 978, 879, 916.5, [1, 2, 3], mNames, { rot: 45, size: 13.5, tick: 6 }),
    y: Object.assign(yAxis(0, 100, [0, 25, 50, 75, 100], { size: 14.5, tick: 7 }), { stacked: true })
  } }
});
T('Proportion (%)', 816, 1094, { s: 15, r: -90 });
T('p=0.0151', 918, 979, { s: 13.5 });
L(888, 987, 949, 987, '#777');
T('DEs', 999, 1036, { s: 14.5 });
swatch(976, 1053, 20, 11, BLUE); swatch(976, 1080, 20, 11, '#ef3e23');
T('Down', 1003, 1059, { s: 14, a: 'l' });
T('Up', 1003, 1086, { s: 14, a: 'l' });
</script>
</body>
</html>
